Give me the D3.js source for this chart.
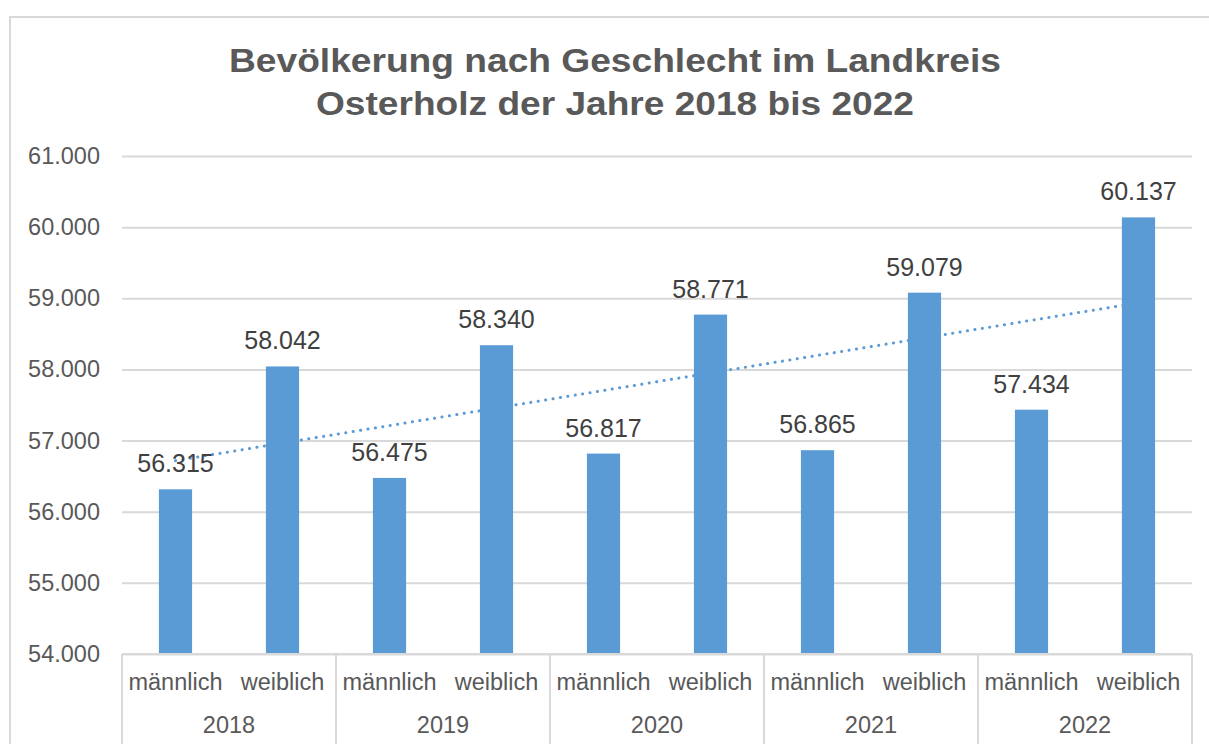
<!DOCTYPE html>
<html lang="de">
  <head>
    <meta charset="utf-8">
    <script src="https://d3js.org/d3.v7.min.js"></script>
    <title>Bevölkerung Osterholz</title>
    <style>
      body { margin: 0; background: #fff; }
      text { font-family: "Liberation Sans", Arial, sans-serif; }
    </style>
  </head>
  <body>
    <script>
      var years = ["2018", "2019", "2020", "2021", "2022"];
      var genders = ["männlich", "weiblich"];
      var maleValues = [56315, 56475, 56817, 56865, 57434];
      var femaleValues = [58042, 58340, 58771, 59079, 60137];
      var yTicks = [54000, 55000, 56000, 57000, 58000, 59000, 60000, 61000];
      var titleLines = ["Bevölkerung nach Geschlecht im Landkreis", "Osterholz der Jahre 2018 bis 2022"];
      var titleWidths = [772, 598];

      var width = 1209, height = 744;
      var plotLeft = 122, plotRight = 1192, plotTop = 156, plotBottom = 654;
      var barColor = "#5b9bd5";
      var gridColor = "#d9d9d9";

      // flatten into rows in the order they appear on the axis
      var rows = [];
      years.forEach(function (y, i) {
        rows.push({year: y, gender: genders[0], value: maleValues[i]});
        rows.push({year: y, gender: genders[1], value: femaleValues[i]});
      });

      var fmt = d3.formatLocale({decimal: ",", thousands: ".", grouping: [3], currency: ["", " €"]}).format(",d");

      var svg = d3.select("body").append("svg")
        .attr("width", width)
        .attr("height", height);

      // chart frame (bottom and right are outside the picture)
      svg.append("rect")
        .attr("x", 10).attr("y", 17)
        .attr("width", 1230).attr("height", 760)
        .attr("fill", "none")
        .attr("stroke", gridColor)
        .attr("stroke-width", 2);

      svg.append("g").selectAll("text").data(titleLines).enter().append("text")
        .attr("x", 615)
        .attr("y", function (d, i) { return 72 + i * 43; })
        .attr("text-anchor", "middle")
        .attr("font-size", 34)
        .attr("font-weight", "bold")
        .attr("fill", "#595959")
        .attr("textLength", function (d, i) { return titleWidths[i]; })
        .attr("lengthAdjust", "spacingAndGlyphs")
        .text(function (d) { return d; });

      var y = d3.scaleLinear().domain([54000, 61000]).range([plotBottom, plotTop]);
      var x0 = d3.scaleBand().domain(years).range([plotLeft, plotRight]);
      var x1 = d3.scaleBand().domain(genders).range([0, x0.bandwidth()]);
      var barW = x1.bandwidth() * 0.31;
      function cx(d) { return x0(d.year) + x1(d.gender) + x1.bandwidth() / 2; }

      // gridlines + y labels
      var yAxis = d3.axisLeft(y).tickValues(yTicks).tickSize(0).tickPadding(22).tickFormat(fmt);
      var gy = svg.append("g").attr("transform", "translate(" + plotLeft + ",0)").call(yAxis);
      gy.select(".domain").remove();
      gy.selectAll(".tick line").attr("stroke", gridColor).attr("stroke-width", 2)
        .attr("x1", 0).attr("x2", plotRight - plotLeft);
      gy.selectAll(".tick text").attr("font-size", 23.5).attr("fill", "#595959")
        .attr("font-family", "Liberation Sans, Arial, sans-serif");

      // bars
      svg.selectAll("rect.bar").data(rows).enter().append("rect")
        .attr("class", "bar")
        .attr("x", function (d) { return cx(d) - barW / 2; })
        .attr("y", function (d) { return y(d.value); })
        .attr("width", barW)
        .attr("height", function (d) { return y(54000) - y(d.value); })
        .attr("fill", barColor);

      // linear trendline over the ten bars
      var n = rows.length;
      var mx = d3.mean(rows, function (d, i) { return i + 1; });
      var my = d3.mean(rows, function (d) { return d.value; });
      var sxy = d3.sum(rows, function (d, i) { return (i + 1 - mx) * (d.value - my); });
      var sxx = d3.sum(rows, function (d, i) { return (i + 1 - mx) * (i + 1 - mx); });
      var slope = sxy / sxx, icpt = my - slope * mx;
      var trend = [rows[0], rows[n - 1]].map(function (d, k) {
        var i = k === 0 ? 1 : n;
        return [cx(d), y(icpt + slope * i)];
      });
      svg.append("path")
        .attr("d", d3.line()(trend))
        .attr("stroke", barColor)
        .attr("stroke-width", 3)
        .attr("stroke-linecap", "round")
        .attr("stroke-dasharray", "0.1,7.4")
        .attr("fill", "none");

      // data labels
      svg.selectAll("text.val").data(rows).enter().append("text")
        .attr("class", "val")
        .attr("x", cx)
        .attr("y", function (d) { return y(d.value) - 17; })
        .attr("text-anchor", "middle")
        .attr("font-size", 25)
        .attr("fill", "#404040")
        .text(function (d) { return fmt(d.value); });

      // category axis
      var ax = svg.append("g");
      ax.append("line").attr("x1", plotLeft).attr("x2", plotRight).attr("y1", plotBottom).attr("y2", plotBottom)
        .attr("stroke", gridColor).attr("stroke-width", 2);
      ax.selectAll("line.sep").data(years.concat(["end"])).enter().append("line")
        .attr("class", "sep")
        .attr("x1", function (d) { return d === "end" ? plotRight : x0(d); })
        .attr("x2", function (d) { return d === "end" ? plotRight : x0(d); })
        .attr("y1", plotBottom).attr("y2", height)
        .attr("stroke", gridColor).attr("stroke-width", 2);
      ax.selectAll("text.cat").data(rows).enter().append("text")
        .attr("class", "cat")
        .attr("x", cx)
        .attr("y", 690)
        .attr("text-anchor", "middle")
        .attr("font-size", 23.5)
        .attr("fill", "#595959")
        .text(function (d) { return d.gender; });
      ax.selectAll("text.yr").data(years).enter().append("text")
        .attr("class", "yr")
        .attr("x", function (d) { return x0(d) + x0.bandwidth() / 2; })
        .attr("y", 733)
        .attr("text-anchor", "middle")
        .attr("font-size", 23.5)
        .attr("fill", "#595959")
        .text(function (d) { return d; });
    </script>
  </body>
</html>
